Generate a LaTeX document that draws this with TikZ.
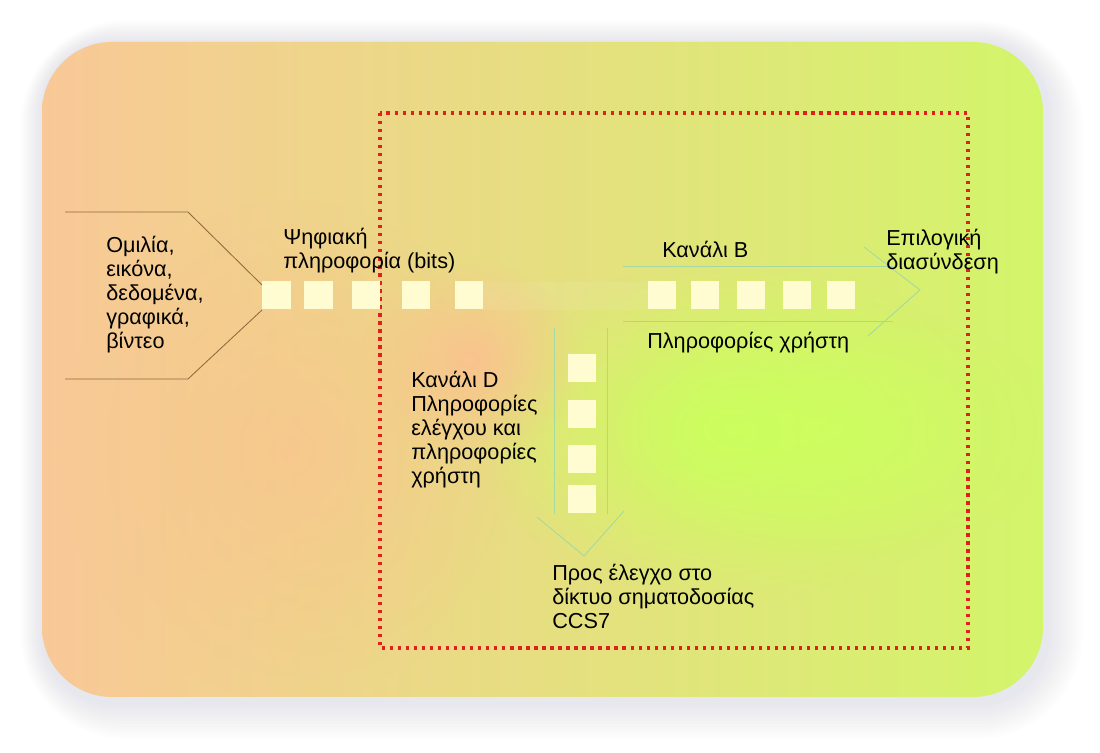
\documentclass[tikz,border=0pt]{standalone}
\usepackage{fontspec}
\setmainfont{Liberation Sans}
\usetikzlibrary{fadings}

\definecolor{peach}{HTML}{F9C897}
\definecolor{midyellow}{HTML}{EBDD82}
\definecolor{limegreen}{HTML}{D3F56A}
\definecolor{brightgreen}{HTML}{CCFF5E}
\definecolor{deeppeach}{HTML}{FAC48E}
\definecolor{bitcream}{HTML}{FFFCD2}
\definecolor{chanline}{HTML}{A4D8A4}
\definecolor{chevron}{HTML}{8C6A3C}
\definecolor{dotred}{HTML}{E0201A}
\definecolor{shadowgray}{HTML}{8A8AA0}

\tikzfading[name=blob, inner color=transparent!0, outer color=transparent!100]

\tikzset{
  bit/.style={fill=bitcream, inner sep=0pt, minimum size=0.7cm},
  label/.style={anchor=north west, inner sep=0pt, align=left,
    font=\fontsize{15.4pt}{17pt}\selectfont},
  chan/.style={draw=chanline, line width=0.6pt},
}

\begin{document}
\begin{tikzpicture}[x=0.025cm, y=-0.025cm]
    \useasboundingbox (0,0) rectangle (1100,753);
    \fill[white] (0,0) rectangle (1100,753);
    % soft shadow
    \foreach \s in {36,33,...,3}
      \fill[shadowgray, opacity=0.012, rounded corners=1.75cm+\s*0.025cm]
        (42-\s*0.6,42-\s*0.6) rectangle (1043+\s+4,697+\s+6);
    % card
    \begin{scope}
      \clip[rounded corners=1.75cm] (42,42) rectangle (1043,697);
      \shade[left color=peach, middle color=midyellow, right color=limegreen]
        (42,42) rectangle (1043,697);
      \fill[brightgreen, path fading=blob] (470,260) rectangle (1000,600);
      \fill[brightgreen, path fading=blob, opacity=0.8] (600,300) rectangle (1060,560);
      \fill[deeppeach, path fading=blob] (360,260) rectangle (580,460);
      \fill[deeppeach, path fading=blob, opacity=0.7] (60,200) rectangle (520,700);
    \end{scope}
    % faint band between the rows
    \fill[white, opacity=0.07] (483,282) rectangle (648,310);

    % red dotted frame
    \draw[dotred, line width=2.3pt, dash pattern=on 2.3pt off 3.4pt]
      (380,113) rectangle (968,648);

    % input chevron
    \draw[chevron, line width=0.6pt] (65,212) -- (188,212) -- (262,285);
    \draw[chevron, line width=0.6pt] (65,379) -- (188,379) -- (262,310);
    \node[label] (src) at (106,236) {Ομιλία,\\εικόνα,\\δεδομένα,\\γραφικά,\\βίντεο};

    % incoming bits
    \node[bit] (b1) at (276.5,295.5) {};
    \node[bit] (b2) at (318.5,295.5) {};
    \node[bit] (b3) at (366,295.5) {};
    \node[bit] (b4) at (416,295.5) {};
    \node[bit] (b5) at (469,295.5) {};
    \node[label] (bitslbl) at (283,228) {Ψηφιακή\\πληροφορία (bits)};

    % channel B
    \coordinate (bt0) at (623,266);
    \coordinate (bt1) at (893,266);
    \coordinate (bb0) at (623,321);
    \coordinate (bb1) at (893,321);
    \coordinate (bh1) at (864,247);
    \coordinate (btip) at (920,290);
    \coordinate (bh2) at (868,336);
    \draw[chan] (bt0) -- (bt1);
    \draw[chan] (bb0) -- (bb1);
    \draw[chan] (bh1) -- (btip) -- (bh2);
    \node[bit] (c1) at (661.5,295.5) {};
    \node[bit] (c2) at (705,295.5) {};
    \node[bit] (c3) at (751,295.5) {};
    \node[bit] (c4) at (797,295.5) {};
    \node[bit] (c5) at (841,295.5) {};
    \node[label] (blbl) at (662,241) {Κανάλι B};
    \node[label] (buser) at (647,332) {Πληροφορίες χρήστη};
    \node[label] (sel) at (886,229) {Επιλογική\\διασύνδεση};

    % channel D
    \coordinate (dl0) at (554,328);
    \coordinate (dl1) at (554,514);
    \coordinate (dr0) at (607,328);
    \coordinate (dr1) at (607,514);
    \coordinate (dh1) at (537,517);
    \coordinate (dtip) at (584,556);
    \coordinate (dh2) at (624,511);
    \draw[chan] (dl0) -- (dl1);
    \draw[chan] (dr0) -- (dr1);
    \draw[chan] (dh1) -- (dtip) -- (dh2);
    \node[bit] (d1) at (582,368) {};
    \node[bit] (d2) at (582,414) {};
    \node[bit] (d3) at (582,459) {};
    \node[bit] (d4) at (582,499) {};
    \node[label] (dlbl) at (411,371) {Κανάλι D\\Πληροφορίες\\ελέγχου και\\πληροφορίες\\χρήστη};
    \node[label] (ccs) at (552,564) {Προς έλεγχο στο\\δίκτυο σηματοδοσίας\\CCS7};
  \end{tikzpicture}
\end{document}
